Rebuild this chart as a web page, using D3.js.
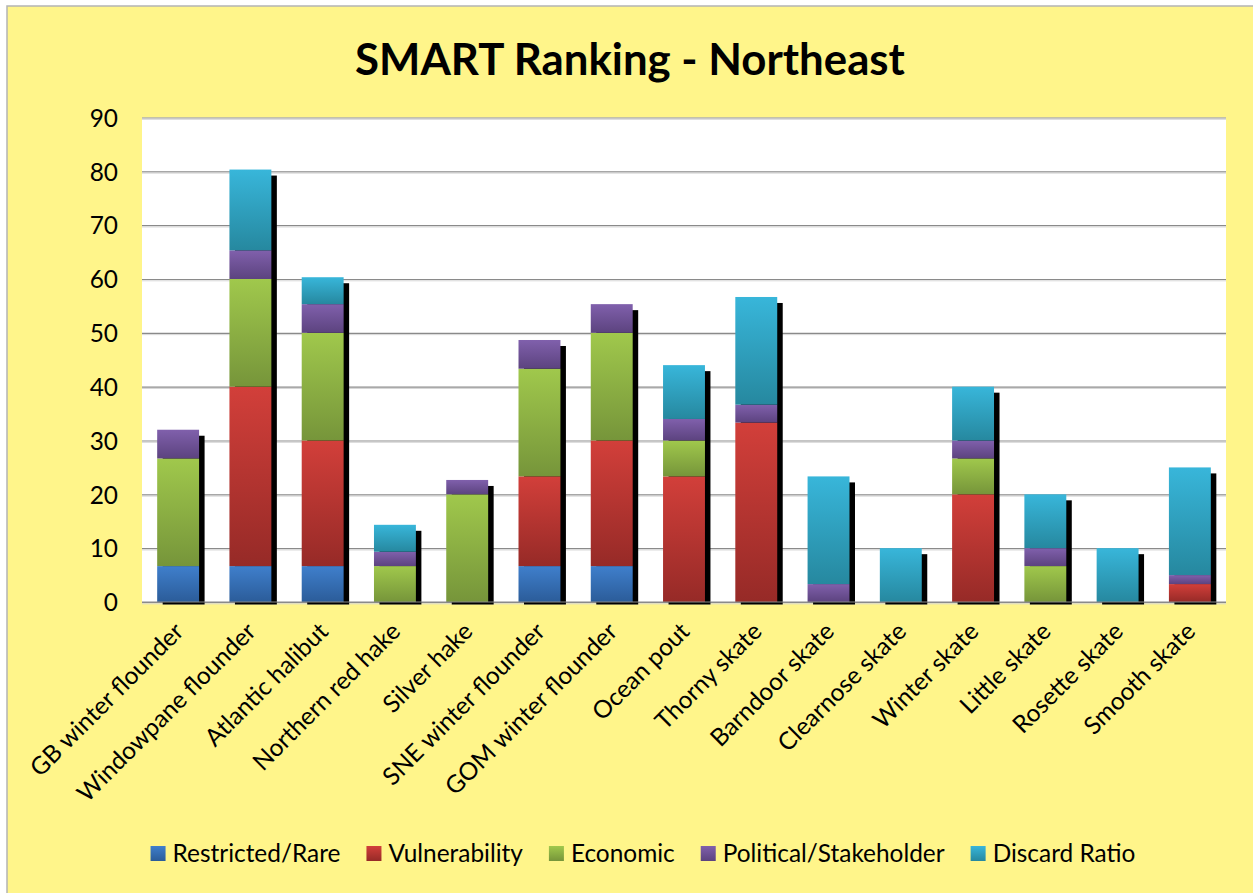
<!DOCTYPE html>
<html><head><meta charset="utf-8">
<script src="https://cdn.jsdelivr.net/npm/d3@7/dist/d3.min.js"></script>
<style>body{margin:0;background:#fff;} svg{display:block;}</style>
</head><body><svg id="c" width="1253" height="893"></svg>
<script>
const categories = ["GB winter flounder","Windowpane flounder","Atlantic halibut","Northern red hake","Silver hake","SNE winter flounder","GOM winter flounder","Ocean pout","Thorny skate","Barndoor skate","Clearnose skate","Winter skate","Little skate","Rosette skate","Smooth skate"];
const restricted    = [6.67,6.67,6.67,0,0,6.67,6.67,0,0,0,0,0,0,0,0];
const vulnerability = [0,33.33,23.33,0,0,16.67,23.33,23.33,33.33,0,0,20,0,0,3.33];
const economic      = [20,20,20,6.67,20,20,20,6.67,0,0,0,6.67,6.67,0,0];
const political     = [5.33,5.33,5.33,2.67,2.67,5.33,5.33,4,3.33,3.33,0,3.33,3.33,0,1.67];
const discard       = [0,15,5,5,0,0,0,10,20,20,10,10,10,10,20];
const seriesNames = ["Restricted/Rare","Vulnerability","Economic","Political/Stakeholder","Discard Ratio"];
const yTicks = [0,10,20,30,40,50,60,70,80,90];
const titleText = "SMART Ranking - Northeast";

const W=1253,H=893;
const FONT="Lato, 'Open Sans', sans-serif";
const svg=d3.select("#c");
const seriesArrays=[restricted,vulnerability,economic,political,discard];
const keys=["s0","s1","s2","s3","s4"];
const table=categories.map((c,i)=>{const o={cat:c};keys.forEach((k,j)=>o[k]=seriesArrays[j][i]);return o;});
const colors=[["#3F7FCC","#2B5C99"],["#D23F3A","#962A27"],["#A0C84C","#76953A"],["#8060AC","#5C437F"],["#38B6DA","#26889F"]];

const defs=svg.append("defs");
colors.forEach((c,i)=>{
  const g=defs.append("linearGradient").attr("id","g"+i).attr("x1",0).attr("y1",0).attr("x2",0).attr("y2",1);
  g.append("stop").attr("offset","0%").attr("stop-color",c[0]);
  g.append("stop").attr("offset","100%").attr("stop-color",c[1]);
});

// background
svg.append("rect").attr("x",7).attr("y",6).attr("width",W).attr("height",H)
  .attr("fill","#FFF58A").attr("stroke","#b4b4b4").attr("stroke-width",1.5);

function fitSize(text,target,base,weight){
  const t=svg.append("text").attr("font-family",FONT).attr("font-size",base).attr("font-weight",weight||"normal").text(text);
  const w=t.node().getComputedTextLength(); t.remove();
  return base*target/w;
}
const fs=fitSize("Restricted/Rare",168,26);
const titleFs=fitSize(titleText,550,46,"bold");

const L=142,R=1226,T=117.5,B=602;
const x=d3.scaleBand().domain(categories).range([L,R]).paddingInner(0.42).paddingOuter(0.21);
const y=d3.scaleLinear().domain([0,90]).range([B,T]);

svg.append("rect").attr("x",L).attr("y",T).attr("width",R-L).attr("height",B-T).attr("fill","#fff");

// title
svg.append("text").attr("x",630).attr("y",75).attr("text-anchor","middle")
  .attr("font-family",FONT).attr("font-weight","bold").attr("font-size",titleFs).attr("fill","#000").text(titleText);

// gridlines + y labels
const ga=svg.append("g").attr("transform",`translate(${L},0)`)
  .call(d3.axisLeft(y).tickValues(yTicks).tickSize(-(R-L)).tickFormat(d3.format("d")).tickPadding(24));
ga.select(".domain").remove();
ga.selectAll(".tick line").attr("stroke","#8a8a8a").attr("stroke-width",1.2);
ga.selectAll(".tick").append("line").attr("x1",0).attr("x2",R-L).attr("y1",1.3).attr("y2",1.3).attr("stroke","#d6d6d6").attr("stroke-width",1);
ga.selectAll(".tick text").attr("font-family",FONT).attr("font-size",fs).attr("fill","#000").attr("dy","0.36em");

const stack=d3.stack().keys(keys)(table);
const totals=table.map(d=>keys.reduce((s,k)=>s+d[k],0));

// shadows
svg.append("g").selectAll("rect").data(table).join("rect")
  .attr("x",d=>x(d.cat)+5.5).attr("y",(d,i)=>y(totals[i])+6)
  .attr("width",x.bandwidth()).attr("height",(d,i)=>B+2.5-(y(totals[i])+6)).attr("fill","#000");

// bars
stack.forEach((layer,j)=>{
  svg.append("g").selectAll("rect").data(layer.filter(d=>d[1]-d[0]>0)).join("rect")
    .attr("x",d=>x(d.data.cat)).attr("y",d=>y(d[1])).attr("width",x.bandwidth())
    .attr("height",d=>y(d[0])-y(d[1])).attr("fill",`url(#g${j})`);
});

// x axis
svg.append("line").attr("x1",L).attr("x2",R).attr("y1",B).attr("y2",B).attr("stroke","#8a8a8a").attr("stroke-width",1.2);
const gx=svg.append("g").attr("transform",`translate(0,${B})`).call(d3.axisBottom(x).tickSize(0));
gx.select(".domain").remove();
gx.selectAll(".tick text").attr("font-family",FONT).attr("font-size",fs).attr("fill","#000")
  .attr("text-anchor","end").attr("x",0).attr("y",0).attr("dy",0)
  .attr("transform","translate(7,31) rotate(-45)");

// legend
const lg=svg.append("g");
const sq=15,gap=7,spacing=26;
const widths=seriesNames.map(n=>{const t=svg.append("text").attr("font-family",FONT).attr("font-size",fs).text(n);const w=t.node().getComputedTextLength();t.remove();return w;});
const total=widths.reduce((s,w)=>s+sq+gap+w,0)+spacing*(seriesNames.length-1);
let cx=643-total/2;
seriesNames.forEach((n,i)=>{
  lg.append("rect").attr("x",cx).attr("y",846).attr("width",sq).attr("height",sq).attr("fill",`url(#g${i})`);
  lg.append("text").attr("x",cx+sq+gap).attr("y",853.5).attr("dy","0.36em").attr("font-family",FONT).attr("font-size",fs).attr("fill","#000").text(n);
  cx+=sq+gap+widths[i]+spacing;
});
</script></body></html>
